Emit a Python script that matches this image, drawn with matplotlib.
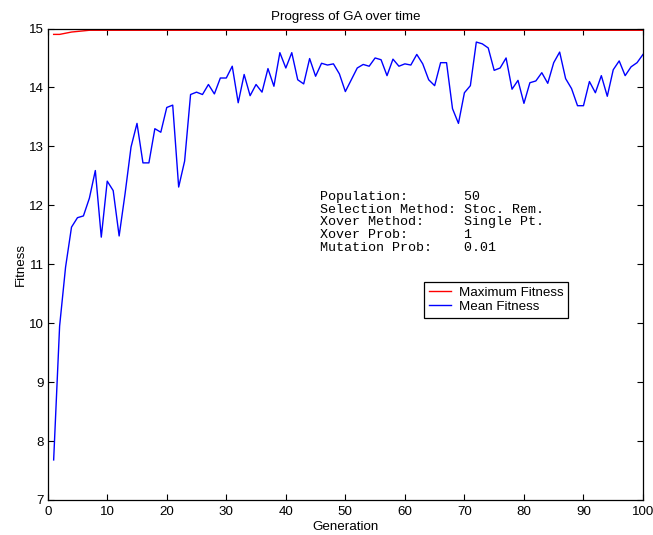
import matplotlib
matplotlib.use("Agg")
import matplotlib.pyplot as plt
import numpy as np

generations = list(range(1, 101))
mean_fitness = [
    7.68, 9.95, 10.95, 11.63, 11.79, 11.82, 12.12, 12.59, 11.46, 12.41,
    12.25, 11.48, 12.20, 12.99, 13.39, 12.72, 12.72, 13.30, 13.24, 13.66,
    13.70, 12.31, 12.75, 13.88, 13.92, 13.88, 14.05, 13.89, 14.16, 14.16,
    14.36, 13.74, 14.22, 13.86, 14.05, 13.92, 14.32, 14.02, 14.59, 14.33,
    14.59, 14.13, 14.06, 14.49, 14.19, 14.41, 14.38, 14.40, 14.23, 13.93,
    14.13, 14.33, 14.39, 14.36, 14.50, 14.47, 14.20, 14.48, 14.36, 14.40,
    14.38, 14.56, 14.40, 14.13, 14.03, 14.42, 14.42, 13.64, 13.39, 13.91,
    14.03, 14.77, 14.74, 14.67, 14.29, 14.33, 14.50, 13.97, 14.12, 13.73,
    14.08, 14.11, 14.25, 14.07, 14.42, 14.60, 14.15, 13.98, 13.69, 13.69,
    14.10, 13.91, 14.20, 13.85, 14.30, 14.45, 14.20, 14.35, 14.42, 14.56,
]
max_fitness = [14.90, 14.90, 14.92, 14.94, 14.95, 14.96] + [14.97] * 94

info_labels = ["Population:", "Selection Method:", "Xover Method:", "Xover Prob:", "Mutation Prob:"]
info_values = ["50", "Stoc. Rem.", "Single Pt.", "1", "0.01"]

x_ticks = list(range(0, 101, 10))
y_ticks = list(range(7, 16))

plt.rcParams['font.family'] = ['Liberation Sans', 'DejaVu Sans']

fig = plt.figure(figsize=(6.53, 5.35), dpi=100)
W, H = 653, 535
l, r, t, b = 47.7, 643.0, 28.5, 500.0
ax = fig.add_axes([l / W, 1 - b / H, (r - l) / W, (b - t) / H])

ax.plot(generations, max_fitness, color='#ff0000', lw=1.0, label='Maximum Fitness')
ax.plot(generations, mean_fitness, color='#0000ff', lw=1.0, label='Mean Fitness')

ax.set_xlim(0, 100)
ax.set_ylim(7, 15)
ax.set_xticks(x_ticks)
ax.set_yticks(y_ticks)
ax.tick_params(direction='in', top=True, right=True, length=4, width=0.8,
               labelsize=9.6)
ax.tick_params(axis='x', pad=4.5)
ax.tick_params(axis='y', pad=3)
for sp in ax.spines.values():
    sp.set_linewidth(0.9)

ax.set_title('Progress of GA over time', fontsize=9.6, pad=6)
ax.set_xlabel('Generation', fontsize=9.6, labelpad=2)
ax.set_ylabel('Fitness', fontsize=9.6, labelpad=1)

# parameter text block (monospace)
def px2data(px, py):
    xd = (px - l) / (r - l) * 100
    yd = 15 - (py - t) / (b - t) * 8
    return xd, yd

start_py = 196.7
step = 12.9
for i, (lab, val) in enumerate(zip(info_labels, info_values)):
    xd, yd = px2data(320, start_py + i * step)
    ax.text(xd, yd, lab.ljust(18) + val, family=['Liberation Mono', 'DejaVu Sans Mono'],
            fontsize=9.6, va='center', ha='left')

leg = ax.legend(loc='upper left', bbox_to_anchor=((424.3 - l) / (r - l), 1 - (281.7 - t) / (b - t)),
                borderaxespad=0, fancybox=False, framealpha=1, edgecolor='black',
                fontsize=9.6, handlelength=1.65, handletextpad=0.6, borderpad=0.35,
                labelspacing=0.15)
leg.get_frame().set_linewidth(0.9)

fig.savefig('out.png', dpi=100)
